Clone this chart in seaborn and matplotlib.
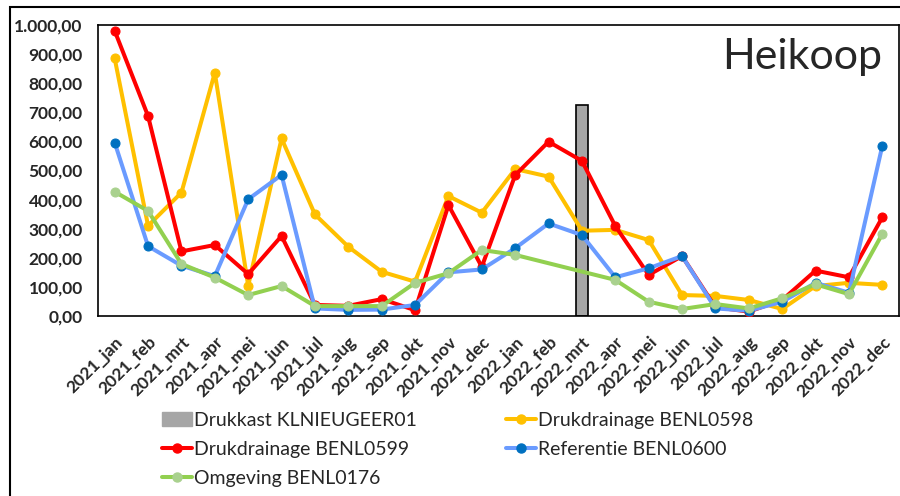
import numpy as np
import pandas as pd
import seaborn as sns
import matplotlib.pyplot as plt
from matplotlib.lines import Line2D
from matplotlib.patches import Patch, Rectangle
from matplotlib.ticker import FuncFormatter

# Data
months = ['2021_jan', '2021_feb', '2021_mrt', '2021_apr', '2021_mei', '2021_jun',
          '2021_jul', '2021_aug', '2021_sep', '2021_okt', '2021_nov', '2021_dec',
          '2022_jan', '2022_feb', '2022_mrt', '2022_apr', '2022_mei', '2022_jun',
          '2022_jul', '2022_aug', '2022_sep', '2022_okt', '2022_nov', '2022_dec']

drukkast = [np.nan] * 14 + [724] + [np.nan] * 9
benl0598 = [885, 310, 424, 836, 104, 610, 349, 238, 152, 118, 412, 355,
            505, 479, 293, 296, 261, 72, 69, 55, 24, 103, 114, 107]
benl0599 = [980, 687, 222, 244, 144, 275, 38, 35, 58, 20, 381, 169,
            484, 599, 533, 309, 141, 206, 30, 15, 55, 156, 133, 339]
benl0600 = [596, 240, 173, 137, 401, 485, 26, 21, 22, 38, 150, 160,
            233, 318, 278, 133, 164, 206, 26, 18, 49, 114, 80, 585]
benl0176 = [427, 361, 179, 132, 72, 103, 34, 34, 34, 114, 147, 227,
            210, np.nan, np.nan, 124, 49, 24, 41, 26, 61, 109, 75, 282]

sns.set_style('white')
plt.rcParams['font.family'] = ['Lato', 'DejaVu Sans']

fig = plt.figure(figsize=(9, 4.96), dpi=100)
ax = fig.add_axes([98 / 900, 1 - 316 / 496, 801 / 900, 291 / 496])

x = np.arange(len(months))

# grey bar (drukkast)
sns.barplot(x=x, y=drukkast, ax=ax, color='#A6A6A6', width=0.38,
            edgecolor='black', linewidth=1.2, saturation=1, native_scale=True)

series = [
    (benl0598, '#FFC000', '#FFC000'),
    (benl0599, '#FF0000', '#FF0000'),
    (benl0600, '#6A9BFF', '#0070C0'),
    (benl0176, '#92D050', '#A9D18E'),
]
for vals, lc, mc in series:
    d = pd.DataFrame({'x': x, 'y': vals}).dropna()
    sns.lineplot(data=d, x='x', y='y', ax=ax, color=lc, linewidth=2.9,
                 marker='o', markersize=6.5, markerfacecolor=mc,
                 markeredgecolor=mc, zorder=3)

ax.set_xlim(-0.5, len(months) - 0.5)
ax.set_ylim(0, 1000)
ax.set_yticks(np.arange(0, 1001, 100))
ax.yaxis.set_major_formatter(FuncFormatter(
    lambda v, p: f'{v:,.2f}'.replace(',', 'X').replace('.', ',').replace('X', '.')))
ax.set_xticks(x)
ax.set_xticklabels(months, rotation=45, ha='right', rotation_mode='anchor')
ax.tick_params(axis='both', length=0, labelsize=12.5)
ax.tick_params(axis='y', pad=11)
ax.tick_params(axis='x', pad=13)
for lab in ax.get_xticklabels() + ax.get_yticklabels():
    lab.set_fontweight('bold')
ax.set_xlabel('')
ax.set_ylabel('')
for s in ax.spines.values():
    s.set_color('black')
    s.set_linewidth(1.2)

ax.text(0.979, 0.955, 'Heikoop', transform=ax.transAxes, ha='right', va='top',
        fontsize=31)

# legend
handles = [
    Patch(facecolor='#A6A6A6', edgecolor='#A6A6A6', label='Drukkast KLNIEUGEER01'),
    Line2D([], [], color='#FF0000', lw=2.9, marker='o', ms=6.5, mfc='#FF0000',
           mec='#FF0000', label='Drukdrainage BENL0599'),
    Line2D([], [], color='#92D050', lw=2.9, marker='o', ms=6.5, mfc='#A9D18E',
           mec='#A9D18E', label='Omgeving BENL0176'),
    Line2D([], [], color='#FFC000', lw=2.9, marker='o', ms=6.5, mfc='#FFC000',
           mec='#FFC000', label='Drukdrainage BENL0598'),
    Line2D([], [], color='#6A9BFF', lw=2.9, marker='o', ms=6.5, mfc='#0070C0',
           mec='#0070C0', label='Referentie BENL0600'),
]
fig.legend(handles=handles, ncol=2, loc='upper left',
           bbox_to_anchor=(152 / 900, 1 - 402 / 496), frameon=False,
           fontsize=14, handlelength=1.55, handletextpad=0.1,
           columnspacing=4.6, labelspacing=0.62, borderpad=0)

# outer chart border
fig.patches.append(Rectangle((10 / 900, -0.05), 1.2, 1.05 - 7 / 496,
                             transform=fig.transFigure, fill=False,
                             edgecolor='black', linewidth=1.5))

fig.savefig('out.png', dpi=100)
